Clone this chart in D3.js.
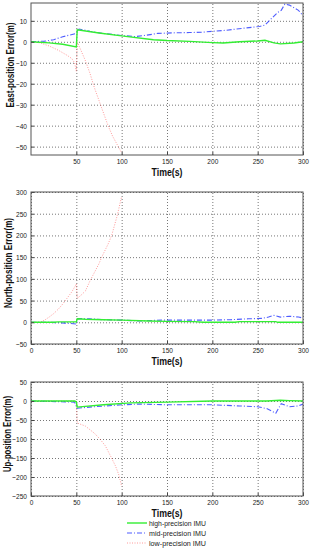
<!DOCTYPE html>
<html>
<head>
<meta charset="utf-8">
<script src="https://cdn.jsdelivr.net/npm/d3@7"></script>
<style>
  body { margin: 0; background: #fff; }
  svg { display: block; font-family: "Liberation Sans", Arial, sans-serif; }
  .tick text { font-size: 8px; fill: #222; }
  .axlabel { font-size: 10px; font-weight: bold; fill: #111; }
  .grid line { stroke: #777; stroke-dasharray: 1,2; }
  .grid path { display: none; }
</style>
</head>
<body>
<div id="chart"></div>
<script>

// east-position error (m), [time, value]
var eastHigh = [[0,0],[20,-0.5],[35,-1.2],[50,-2.5],[51,5.7],[75,4.2],[100,2.8],[135,1],[150,0.6],[175,0.2],[200,-0.4],[212,-0.6],[230,0],[250,0.4],[258,0.7],[268,-0.5],[275,-1],[290,-0.6],[300,0]];
var eastMid = [[0,0],[15,0.3],[25,1],[35,2.4],[50,4],[53,6.1],[65,5],[80,4],[100,3],[115,2.5],[125,3],[140,4],[160,4.3],[175,4.4],[190,4.6],[200,5],[215,5.5],[235,6.5],[252,7.3],[258,8],[265,11],[272,14],[276,15],[280,18],[285,17.5],[295,15],[300,12.5]];
var eastLow = [[0,0],[10,-0.5],[20,-2],[30,-4],[40,-6.5],[45,-8],[48,-10],[50,-14],[51,0],[55,-4],[60,-9],[65,-15],[70,-22],[75,-28],[80,-34],[85,-40],[90,-45],[95,-49],[100,-53]];

// north-position error (m)
var northHigh = [[0,0],[25,0],[30,1],[50,1],[51,8],[60,7],[80,6],[100,5],[130,3],[150,2],[180,1.5],[190,0],[225,0],[230,1.5],[270,1.5],[272,0],[300,0]];
var northMid = [[0,0],[20,0],[30,-1],[40,-2],[50,-4],[52,8.5],[65,8],[80,6],[100,5],[120,3],[130,4],[145,5],[200,5],[220,6],[240,8],[255,9],[262,12],[268,16],[275,12],[285,14],[295,12],[300,10]];
var northLow = [[0,0],[10,0],[15,5],[20,12],[25,20],[30,30],[35,42],[40,56],[45,70],[50,88],[51,55],[55,62],[60,72],[65,95],[70,115],[75,135],[78,150],[85,180],[89,200],[95,245],[100,290]];

// up-position error (m)
var upHigh = [[0,0],[48,0],[50,-2],[51,-16],[80,-10],[110,-5],[150,-3],[200,0],[260,0],[275,2],[285,1],[300,0]];
var upMid = [[0,0],[20,-1],[48,-3],[51,-19],[70,-15],[100,-10],[120,-8],[150,-10],[200,-10],[230,-13],[250,-15],[260,-20],[270,-32],[276,-7],[285,-15],[295,-13],[300,-8]];
var upLow = [[0,0],[48,0],[50,-2],[51,-58],[60,-66],[70,-85],[76,-100],[82,-118],[88,-146],[93,-170],[97,-195],[100,-225]];

var eastTicks = [-50, -40, -30, -20, -10, 0, 10];
var northTicks = [-50, 0, 50, 100, 150, 200, 250, 300];
var upTicks = [-250, -200, -150, -100, -50, 0, 50];
var timeTicks = [0, 50, 100, 150, 200, 250, 300];

var seriesNames = ["high-precision IMU", "mid-precision IMU", "low-precision IMU"];

var W = 310, H = 550;
var left = 31, right = 303;

var styles = [
  {color: "#33ee33", width: 1.4, dash: null, opacity: 1},
  {color: "#2233ff", width: 1.1, dash: "5,2,1,2", opacity: 0.8},
  {color: "#ff3333", width: 1, dash: "1,1.5", opacity: 0.5}
];

var panels = [
  {label: "East-position Error(m)", len: 85, labelX: 13.5, top: 3, bottom: 155, domain: [-54, 18.5], ticks: eastTicks,
   xticks: timeTicks.slice(1), labelY: 65, series: [eastHigh, eastMid, eastLow]},
  {label: "North-position Error(m)", len: 90, labelX: 12, top: 192, bottom: 344, domain: [-50, 300], ticks: northTicks,
   xticks: timeTicks, labelY: 263, series: [northHigh, northMid, northLow]},
  {label: "Up-position Error(m)", len: 76, labelX: 10.5, top: 382, bottom: 496, domain: [-250, 50], ticks: upTicks,
   xticks: timeTicks, labelY: 434, series: [upHigh, upMid, upLow]}
];

var svg = d3.select("#chart").append("svg")
    .attr("width", W)
    .attr("height", H);

var x = d3.scaleLinear().domain([0, 300]).range([left, right]);

panels.forEach(function(p, i) {
  var y = d3.scaleLinear().domain(p.domain).range([p.bottom, p.top]);
  var g = svg.append("g");

  // grid
  g.append("g").attr("class", "grid")
      .attr("transform", "translate(" + left + ",0)")
      .call(d3.axisLeft(y).tickValues(p.ticks).tickSize(-(right - left)).tickFormat(""));
  g.append("g").attr("class", "grid")
      .attr("transform", "translate(0," + p.bottom + ")")
      .call(d3.axisBottom(x).tickValues(p.xticks).tickSize(-(p.bottom - p.top)).tickFormat(""));

  // lines
  g.append("clipPath").attr("id", "clip" + i)
    .append("rect").attr("x", left).attr("y", p.top)
      .attr("width", right - left).attr("height", p.bottom - p.top);

  var line = d3.line()
      .x(function(d) { return x(d[0]); })
      .y(function(d) { return y(d[1]); });

  // draw low first so high ends up on top
  [2, 1, 0].forEach(function(k) {
    var s = styles[k];
    g.append("path")
        .datum(p.series[k])
        .attr("clip-path", "url(#clip" + i + ")")
        .attr("fill", "none")
        .attr("stroke", s.color)
        .attr("stroke-width", s.width)
        .attr("stroke-opacity", s.opacity)
        .attr("stroke-dasharray", s.dash)
        .attr("d", line);
  });

  // axes
  var ya = g.append("g")
      .attr("transform", "translate(" + left + ",0)")
      .call(d3.axisLeft(y).tickValues(p.ticks).tickSizeInner(-3).tickSizeOuter(0).tickPadding(4));
  var xa = g.append("g")
      .attr("transform", "translate(0," + p.bottom + ")")
      .call(d3.axisBottom(x).tickValues(p.xticks).tickSizeInner(-3).tickSizeOuter(0).tickPadding(3));
  [ya, xa].forEach(function(a) {
    a.select(".domain").remove();
    a.selectAll(".tick line").attr("stroke", "#444");
    a.selectAll("text").attr("font-family", null);
  });
  // squeeze tick labels a bit, the original font is narrow
  ya.selectAll(".tick text").attr("x", -4 / 0.82).attr("transform", "scale(0.82,1)");
  xa.selectAll(".tick text").attr("transform", "scale(0.82,1)");

  g.append("rect")
      .attr("x", left).attr("y", p.top)
      .attr("width", right - left).attr("height", p.bottom - p.top)
      .attr("fill", "none").attr("stroke", "#555").attr("stroke-width", 1);

  g.append("text").attr("class", "axlabel")
      .attr("text-anchor", "middle")
      .attr("x", (left + right) / 2)
      .attr("y", p.bottom + 21)
      .attr("textLength", 31)
      .attr("lengthAdjust", "spacingAndGlyphs")
      .text("Time(s)");

  g.append("text").attr("class", "axlabel")
      .attr("text-anchor", "middle")
      .attr("transform", "translate(" + p.labelX + "," + p.labelY + ") rotate(-90)")
      .attr("textLength", p.len)
      .attr("lengthAdjust", "spacingAndGlyphs")
      .text(p.label);
});

// legend
var legend = svg.append("g");
seriesNames.forEach(function(name, k) {
  var s = styles[k];
  var ly = 523 + k * 10;
  legend.append("line")
      .attr("x1", 127).attr("x2", 147)
      .attr("y1", ly).attr("y2", ly)
      .attr("stroke", s.color)
      .attr("stroke-width", s.width)
      .attr("stroke-opacity", s.opacity)
      .attr("stroke-dasharray", s.dash);
  legend.append("text")
      .attr("x", 149).attr("y", ly)
      .attr("dy", "0.35em")
      .attr("textLength", 57)
      .attr("lengthAdjust", "spacingAndGlyphs")
      .style("font-size", "8px")
      .attr("fill", "#222")
      .text(name);
});

</script>
</body>
</html>
